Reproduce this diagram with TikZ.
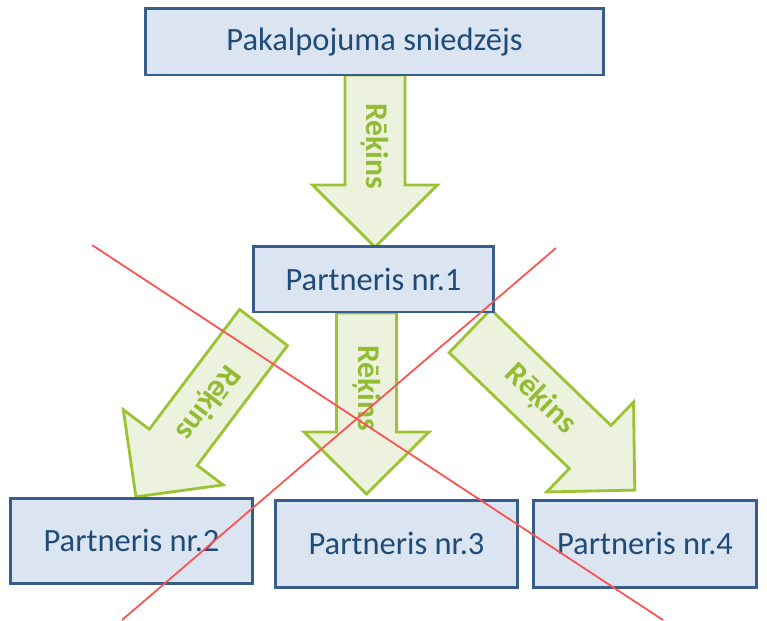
\documentclass[tikz,border=0pt]{standalone}
\usepackage{fontspec}
\setmainfont{Carlito}
\definecolor{vien}{RGB}{56,93,138}
\definecolor{nen}{RGB}{219,229,241}
\definecolor{chu}{RGB}{30,75,120}
\definecolor{xanhla}{RGB}{155,195,50}
\definecolor{xanhnhat}{RGB}{236,242,222}
\definecolor{chula}{RGB}{146,188,52}
\definecolor{doxoa}{RGB}{255,80,80}
\begin{document}
\begin{tikzpicture}[x=0.02cm,y=-0.02cm,
 hop/.style={draw=vien,line width=1.7pt,fill=nen,text=chu,inner sep=0pt,font=\fontsize{18.5}{22}\selectfont},
 muiten/.style={draw=xanhla,line width=1.6pt,fill=xanhnhat},
 nhan/.style={text=chula,inner sep=0pt,font=\fontsize{18}{21}\selectfont\bfseries},
 gach/.style={draw=doxoa,line width=1pt}]
\useasboundingbox (0,0) rectangle (767,620); % khung hình
% Vẽ các mũi tên "Rēķins"
\foreach \x/\y/\g/\l/\t/\ten in {375/75/-90/110/71/r1, 366.5/313/-90/119/75/r2, 263.5/327.5/-127/150/94/r3, 470/331/-44/167/98/r4}
{\begin{scope}[shift={(\x,\y)},rotate=\g]
\draw[muiten] (0,-30)--(\l,-30)--(\l,-62.5)--(\l+62,0)--(\l,62.5)--(\l,30)--(0,30)--cycle;
\node[nhan,rotate=\g] (\ten) at (\t,0) {Rēķins};
\end{scope}}
% Vẽ các hộp
\node[hop,minimum width=9.18cm,minimum height=1.34cm] (sn) at (374.5,41.5) {Pakalpojuma sniedzējs};
\node[hop,minimum width=4.82cm,minimum height=1.32cm] (p1) at (373.5,279) {Partneris nr.1};
\node[hop,minimum width=4.86cm,minimum height=1.7cm] (p2) at (131.5,540.5) {Partneris nr.2};
\node[hop,minimum width=4.86cm,minimum height=1.74cm] (p3) at (396.5,543.5) {Partneris nr.3};
\node[hop,minimum width=4.48cm,minimum height=1.74cm] (p4) at (645,543.5) {Partneris nr.4};
% Gạch chéo
\draw[gach] (92,245)--(663,620);
\draw[gach] (556,248)--(122,620);
\end{tikzpicture}
\end{document}
